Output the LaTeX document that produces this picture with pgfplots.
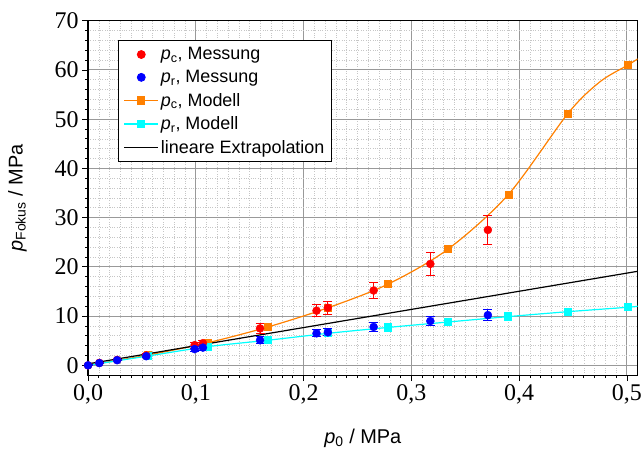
\documentclass[border=0pt]{standalone}
\usepackage{fontspec}
\setmainfont{Liberation Serif}
\newfontfamily\arial{Liberation Sans}
\usepackage{pgfplots}
\pgfplotsset{compat=1.18}

\definecolor{mred}{RGB}{255,0,0}
\definecolor{mblue}{RGB}{0,0,255}
\definecolor{morange}{RGB}{255,128,0}
\definecolor{mcyan}{RGB}{0,255,255}

\begin{document}
\begin{tikzpicture}
\begin{axis}[
  name=ax,
  scale only axis,
  width=549.4bp, height=354.3bp,
  xmin=0, xmax=0.51,
  ymin=-2, ymax=70,
  xtick={0,0.1,...,0.5},
  ytick={0,10,...,70},
  minor x tick num=9,
  minor y tick num=4,
  grid=both,
  major grid style={gray!80, line width=0.9bp},
  minor grid style={gray!45, dotted, line width=0.6bp},
  axis line style={line width=1.3bp},
  tick style={black, line width=0.8bp},
  tick align=outside,
  major tick length=6bp,
  minor tick length=3bp,
  xtick pos=bottom, ytick pos=left,
  /pgf/number format/assume math mode=true,
  xticklabel style={/pgf/number format/.cd, fixed, fixed zerofill, precision=1, use comma},
  yticklabel style={/pgf/number format/.cd, fixed, precision=0},
  tick label style={font=\fontsize{24}{24}\selectfont},
  xlabel={\arial\textit{p}\textsubscript{0} / MPa},
  ylabel={\arial\textit{p}\textsubscript{Fokus} / MPa},
  label style={font=\fontsize{20}{20}\selectfont},
  xlabel style={yshift=-18bp},
  ylabel style={yshift=21bp},
  legend style={at={(0.055,0.945)}, anchor=north west, draw=black,
    line width=0.8bp, fill=white,
    font=\arial\fontsize{18}{20}\selectfont, row sep=5bp,
    inner xsep=5bp, inner ysep=5bp},
  legend cell align=left,
  legend image code/.code={
    \draw[mark repeat=2, mark phase=2] plot coordinates {(0bp,0bp) (17bp,0bp) (34bp,0bp)};},
]
\addlegendimage{only marks, mark=*, mark size=4bp, color=mred,
  legend image code/.code={\draw plot coordinates {(17bp,0bp)};}}
\addlegendentry{\textit{p}\textsubscript{c}, Messung}
\addlegendimage{only marks, mark=*, mark size=4bp, color=mblue,
  legend image code/.code={\draw plot coordinates {(17bp,0bp)};}}
\addlegendentry{\textit{p}\textsubscript{r}, Messung}
\addlegendimage{color=morange, line width=1.2bp, mark=square*, mark size=3.5bp}
\addlegendentry{\textit{p}\textsubscript{c}, Modell}
\addlegendimage{color=mcyan, line width=1.2bp, mark=square*, mark size=3.5bp}
\addlegendentry{\textit{p}\textsubscript{r}, Modell}
\addlegendimage{color=black, line width=1.2bp}
\addlegendentry{lineare Extrapolation}

% Modell p_c: Kurve
\addplot[forget plot, color=morange, line width=1.2bp, smooth] coordinates {
  (0,0) (0.0557,2.1) (0.1113,4.6) (0.167,7.8) (0.2227,11.7) (0.2784,16.5)
  (0.334,23.6) (0.39,34.7) (0.4454,51.2) (0.475,57.6) (0.501,61.0) (0.51,62.25)
};
% Modell p_c: Stuetzstellen
\addplot[forget plot, only marks, color=morange, mark=square*, mark size=3.5bp] coordinates {
  (0.0557,2.1) (0.1113,4.6) (0.167,7.8) (0.2227,11.7) (0.2784,16.5)
  (0.334,23.6) (0.39,34.7) (0.4454,51.2) (0.501,61.0)
};
% Modell p_r
\addplot[forget plot, color=mcyan, line width=1.2bp, smooth, mark=square*, mark size=3.5bp,
  mark indices={2,3,4,5,6,7,8,9,10}] coordinates {
  (0,0) (0.0557,1.9) (0.1113,3.8) (0.167,5.1) (0.2227,6.5) (0.2784,7.7)
  (0.334,8.8) (0.39,9.9) (0.4454,10.9) (0.501,11.8) (0.51,12.0)
};
% lineare Extrapolation
\addplot[forget plot, color=black, line width=1.2bp] coordinates {(0,0.3) (0.51,19.1)};

% Messung p_c
\addplot[forget plot, only marks, color=mred, mark=*, mark size=4bp,
  error bars/.cd, y dir=both, y explicit,
  error bar style={line width=1.1bp}, error mark options={rotate=90, mark size=4.5bp, line width=1.1bp}]
  coordinates {
  (0,0) +- (0,0.1)
  (0.0105,0.5) +- (0,0.1)
  (0.027,1.1) +- (0,0.15)
  (0.054,2.0) +- (0,0.3)
  (0.0989,4.1) +- (0,0.6)
  (0.1066,4.5) +- (0,0.6)
  (0.1596,7.5) +- (0,0.95)
  (0.212,11.1) +- (0,1.2)
  (0.2225,11.7) +- (0,1.3)
  (0.265,15.2) +- (0,1.6)
  (0.3176,20.6) +- (0,2.3)
  (0.371,27.5) +- (0,3.0)
};
% Messung p_r
\addplot[forget plot, only marks, color=mblue, mark=*, mark size=4bp,
  error bars/.cd, y dir=both, y explicit,
  error bar style={line width=1.1bp}, error mark options={rotate=90, mark size=4.5bp, line width=1.1bp}]
  coordinates {
  (0,0) +- (0,0.1)
  (0.0105,0.45) +- (0,0.1)
  (0.027,1.05) +- (0,0.15)
  (0.054,1.85) +- (0,0.2)
  (0.0989,3.3) +- (0,0.45)
  (0.1066,3.6) +- (0,0.5)
  (0.1596,5.1) +- (0,0.7)
  (0.212,6.5) +- (0,0.7)
  (0.2225,6.7) +- (0,0.7)
  (0.265,7.8) +- (0,0.85)
  (0.3176,9.0) +- (0,0.95)
  (0.371,10.2) +- (0,1.1)
};
\end{axis}
\pgfresetboundingbox
\path ([xshift=-88bp,yshift=-80bp]ax.south west) rectangle ([xshift=4.3bp,yshift=20.7bp]ax.north east);
\end{tikzpicture}
\end{document}
